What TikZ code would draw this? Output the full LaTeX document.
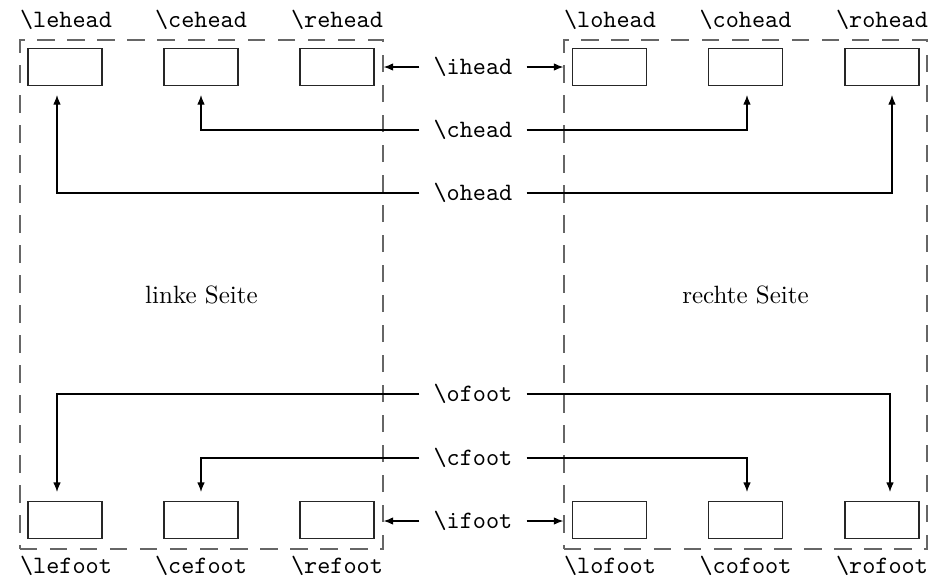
\documentclass[tikz,border=0pt]{standalone}
\usetikzlibrary{arrows.meta}
\begin{document}
\begin{tikzpicture}[x=0.4pt,y=-0.4pt,
  frame/.style={draw=black!60,line width=0.5pt,dash pattern=on 7pt off 5pt,
    minimum width=145.2pt,minimum height=203.6pt,inner sep=0pt},
  slot/.style={draw=black!85,line width=0.45pt,minimum width=29.6pt,minimum height=14.8pt,inner sep=0pt},
  cmd/.style={font=\ttfamily,inner sep=0pt},
  ctl/.style={font=\ttfamily,inner xsep=5.5pt,inner ysep=2pt},
  arr/.style={line width=0.45pt,-{Latex[length=3.8pt,width=3pt]}},
  arrs/.style={arr,shorten >=3.6pt}]
\useasboundingbox (0,0) rectangle (936,581);
% pages
\node[frame] (lp) at (201.5,294.5) {linke Seite};
\node[frame] (rp) at (745.5,294.5) {rechte Seite};
% head slots
\node[slot] (leh) at (65,67) {};
\node[slot] (ceh) at (201,67) {};
\node[slot] (reh) at (337,67) {};
\node[slot] (loh) at (609.5,67) {};
\node[slot] (coh) at (745.5,67) {};
\node[slot] (roh) at (882,67) {};
% foot slots
\node[slot] (lef) at (65,520) {};
\node[slot] (cef) at (201,520) {};
\node[slot] (ref) at (337,520) {};
\node[slot] (lof) at (609.5,520) {};
\node[slot] (cof) at (745.5,520) {};
\node[slot] (rof) at (882,520) {};
% slot names
\node[cmd] (tlehead) at (66,20) {\textbackslash lehead};
\node[cmd] (tcehead) at (201,20) {\textbackslash cehead};
\node[cmd] (trehead) at (337,20) {\textbackslash rehead};
\node[cmd] (tlohead) at (610,20) {\textbackslash lohead};
\node[cmd] (tcohead) at (745.5,20) {\textbackslash cohead};
\node[cmd] (trohead) at (882,20) {\textbackslash rohead};
\node[cmd] (tlefoot) at (66,566) {\textbackslash lefoot};
\node[cmd] (tcefoot) at (201,566) {\textbackslash cefoot};
\node[cmd] (treefoot) at (337,566) {\textbackslash refoot};
\node[cmd] (tlofoot) at (610,566) {\textbackslash lofoot};
\node[cmd] (tcofoot) at (745.5,566) {\textbackslash cofoot};
\node[cmd] (trofoot) at (882,566) {\textbackslash rofoot};
% commands in the middle
\node[ctl] (ih) at (473,67) {\textbackslash ihead};
\node[ctl] (ch) at (473,130) {\textbackslash chead};
\node[ctl] (oh) at (473,193) {\textbackslash ohead};
\node[ctl] (of) at (473,394) {\textbackslash ofoot};
\node[ctl] (cf) at (473,458) {\textbackslash cfoot};
\node[ctl] (if) at (473,521) {\textbackslash ifoot};
% connectors head
\draw[arr] (ih.west) -- (lp.east |- ih.west);
\draw[arr] (ih.east) -- (rp.west |- ih.east);
\draw[arrs] (ch.west) -| (ceh.south);
\draw[arrs] (ch.east) -| ([xshift=0.6pt]coh.south);
\draw[arrs] (oh.west) -| ([xshift=-3.2pt]leh.south);
\draw[arrs] (oh.east) -| ([xshift=4pt]roh.south);
% connectors foot
\draw[arr] (if.west) -- (lp.east |- if.west);
\draw[arr] (if.east) -- (rp.west |- if.east);
\draw[arrs] (cf.west) -| (cef.north);
\draw[arrs] (cf.east) -| ([xshift=0.6pt]cof.north);
\draw[arrs] (of.west) -| ([xshift=-3.2pt]lef.north);
\draw[arrs] (of.east) -| ([xshift=3.2pt]rof.north);
\end{tikzpicture}
\end{document}
